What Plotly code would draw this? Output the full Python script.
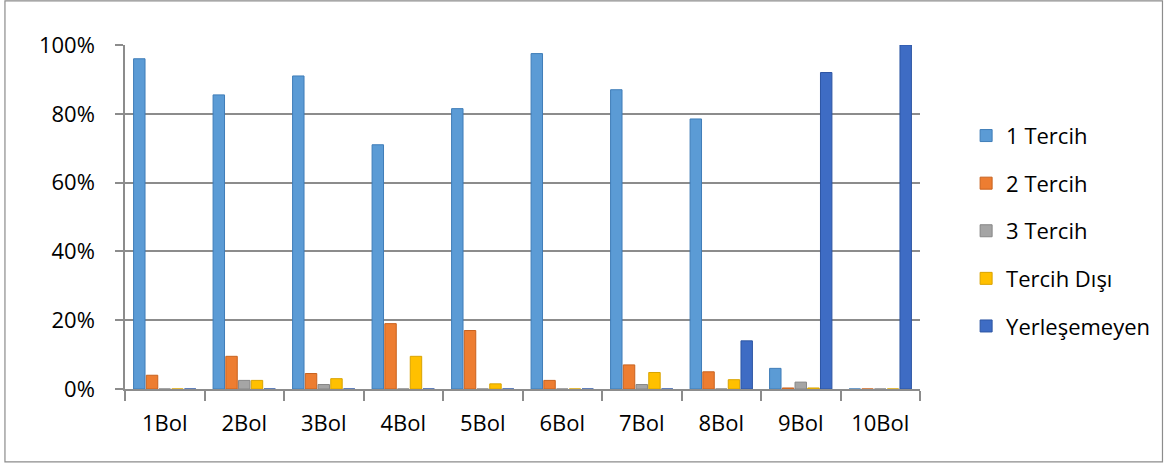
import plotly.graph_objects as go

categories = ["1Bol", "2Bol", "3Bol", "4Bol", "5Bol", "6Bol", "7Bol", "8Bol", "9Bol", "10Bol"]
tercih1 = [0.96, 0.855, 0.91, 0.71, 0.815, 0.975, 0.87, 0.785, 0.06, 0.0]
tercih2 = [0.04, 0.095, 0.045, 0.19, 0.17, 0.025, 0.07, 0.05, 0.003, 0.0]
tercih3 = [0.0, 0.025, 0.013, 0.0, 0.0, 0.0, 0.013, 0.0, 0.02, 0.0]
tercih_disi = [0.0, 0.025, 0.03, 0.095, 0.015, 0.0, 0.048, 0.027, 0.003, 0.0]
yerlesemeyen = [0.0, 0.0, 0.0, 0.0, 0.0, 0.0, 0.0, 0.14, 0.92, 1.0]
series_names = ["1 Tercih", "2 Tercih", "3 Tercih", "Tercih Dışı", "Yerleşemeyen"]
y_ticks = [0, 0.2, 0.4, 0.6, 0.8, 1.0]
y_tick_labels = ["0%", "20%", "40%", "60%", "80%", "100%"]

colors = ["#5B9BD5", "#ED7D31", "#A5A5A5", "#FFC000", "#3E6CC4"]
lines = ["#3F7DB8", "#C8621E", "#878787", "#D9A300", "#2D55A3"]

fig = go.Figure()
for i, (name, vals) in enumerate(zip(series_names, [tercih1, tercih2, tercih3, tercih_disi, yerlesemeyen])):
    fig.add_trace(go.Bar(
        x=categories, y=vals, name=name, legendgroup=name,
        marker=dict(color=colors[i], line=dict(color=lines[i], width=1)),
    ))

font_family = "'Open Sans', Lato, 'Liberation Sans', sans-serif"
fig.update_layout(
    width=1173, height=464,
    margin=dict(l=125, r=253, t=45, b=75),
    paper_bgcolor="white", plot_bgcolor="white",
    barmode="group", bargap=0.2, bargroupgap=0.1,
    font=dict(family=font_family, size=22, color="#000000"),
    showlegend=True,
    legend=dict(x=1.058, xanchor="left", y=0.46, yanchor="middle",
                font=dict(size=22, family=font_family), tracegroupgap=16,
                bgcolor="rgba(0,0,0,0)"),
    yaxis=dict(range=[0, 1.0], tickvals=y_ticks, ticktext=y_tick_labels,
               showgrid=True, gridcolor="#8C8C8C", gridwidth=1.5,
               showline=True, linecolor="#8C8C8C", linewidth=1.5,
               ticks="outside", ticklen=8, tickcolor="#8C8C8C", tickwidth=1.5,
               zeroline=False, ticklabelstandoff=16),
    xaxis=dict(showline=True, linecolor="#8C8C8C", linewidth=1.5,
               ticks="outside", tickson="boundaries", ticklen=10,
               tickcolor="#8C8C8C", tickwidth=1.5, showgrid=False,
               ticklabelstandoff=14, tickfont=dict(size=22)),
    shapes=[dict(type="rect", xref="paper", yref="paper",
                 x0=-0.151, x1=1.305, y0=-0.212, y1=1.128,
                 line=dict(color="#8C8C8C", width=1.2), layer="below")],
)

fig.write_html("out.html", config={"displayModeBar": False},
               post_script="document.body.style.margin='0';")
